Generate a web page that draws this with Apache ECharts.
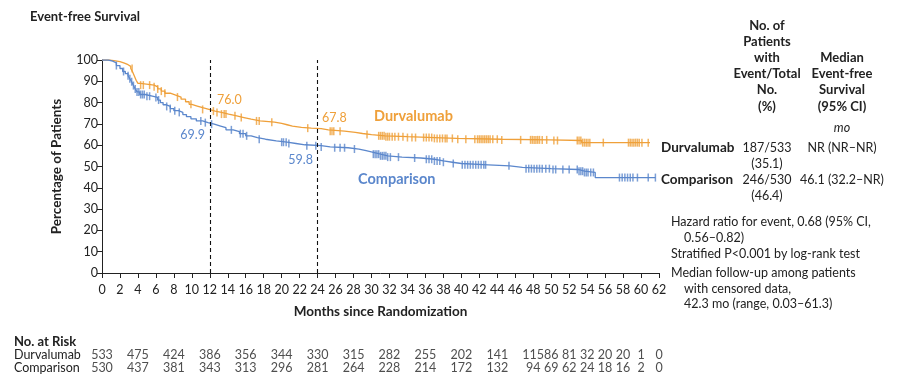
<!DOCTYPE html>
<html>
<head>
<meta charset="utf-8">
<script src="https://cdn.jsdelivr.net/npm/echarts@6/dist/echarts.min.js"></script>
<style>html,body{margin:0;padding:0;background:#fff}#c{width:900px;height:388px}</style>
</head>
<body>
<div id="c"></div>
<script>
// ---- data ----
var xTicks = [0, 62, 2];
var durvaSteps = [[0,100],[0.8,99.6],[1.5,99.2],[2.0,98.5],[2.5,97.8],[2.9,97],[3.2,96],[3.4,94.5],[3.6,92.5],[3.8,90.5],[4.0,89],[4.3,88.2],[5.8,87.4],[6.2,86.4],[6.6,85.4],[7.0,84.4],[7.6,83.5],[8.2,82.6],[8.8,81.6],[9.3,80.4],[9.7,79.2],[10.0,78.4],[10.6,77.6],[11.2,76.8],[11.9,76.0],[12.6,75.4],[13.3,74.6],[14.1,73.8],[15.0,73.0],[15.8,72.2],[16.6,71.4],[17.6,70.8],[19.2,70.2],[20.0,69.6],[20.6,69.0],[21.2,68.4],[22.2,68.0],[23.3,67.8],[24.4,67.2],[25.2,66.6],[27.0,66.0],[28.2,65.5],[29.0,65.0],[30.0,64.4],[31.5,64.0],[34.0,63.6],[37.0,63.2],[39.5,62.8],[44.5,62.5],[49.8,62.2],[53.4,61.2],[61.0,61.2]];
var compSteps = [[0,100],[0.7,99.5],[1.2,98.6],[1.6,97.4],[2.0,96],[2.3,94.6],[2.6,93.6],[2.9,92.6],[3.1,91.2],[3.3,89.8],[3.5,88],[3.7,86.4],[3.9,85],[4.2,83.8],[4.8,83.0],[5.6,82.4],[6.2,81.2],[6.5,80],[6.8,79],[7.1,78.2],[7.6,77.2],[8.0,76.2],[8.5,75.4],[9.0,74.4],[9.4,73.4],[9.9,72.4],[10.5,71.4],[11.2,70.6],[11.8,69.9],[12.5,69.0],[13.2,68.2],[13.8,67.2],[14.6,66.4],[15.3,65.4],[16.0,64.4],[16.6,63.6],[17.3,62.8],[18.2,62.0],[19.4,61.4],[20.6,60.8],[21.6,60.2],[22.6,59.8],[24.4,59.2],[25.4,58.8],[27.4,58.2],[28.6,57.4],[29.4,56.6],[30.2,55.8],[31.0,55.0],[31.8,54.4],[33.4,54.0],[35.5,53.4],[37.0,52.6],[38.0,52.0],[39.0,51.4],[40.0,50.8],[43.0,50.3],[45.4,49.6],[46.8,49.0],[50.0,48.6],[53.0,47.8],[53.7,47.2],[54.9,44.8],[61.6,44.8]];
var durvaCensor = [3.35,4.3,4.6,5.3,5.8,6.2,6.6,7.0,8.4,9.9,11.2,12.4,12.8,13.3,13.6,13.8,14.8,15.5,17.2,17.5,18.9,22.9,25.4,25.6,25.8,26.5,29.5,30.8,31.0,31.2,31.4,31.6,31.8,32.0,32.3,32.6,33.0,33.5,34.0,34.5,34.9,35.8,36.1,36.4,36.7,37.0,37.3,37.6,37.9,38.2,38.4,39.0,39.6,40.5,41.5,41.8,42.0,42.2,42.4,42.6,42.8,43.0,43.2,43.5,44.0,44.5,46.6,47.7,47.9,48.1,48.3,48.5,48.7,49.0,49.5,50.3,50.7,52.9,53.1,53.3,53.5,53.7,53.9,54.1,54.3,55.8,58.6,58.8,59.0,59.2,59.4,59.6,59.8,60.1,60.8];
var compCensor = [1.6,2.4,2.9,3.1,3.3,3.5,3.7,3.9,4.1,4.3,4.5,4.7,5.0,5.3,6.0,6.3,7.2,7.6,8.1,8.6,11.0,11.5,12.2,14.4,15.4,15.7,16.1,17.5,20.0,20.2,20.5,20.8,22.8,23.8,24.4,25.9,26.5,27.0,28.1,30.2,30.4,30.6,30.8,31.0,31.2,31.4,31.6,31.8,32.1,33.0,34.8,36.1,36.4,36.7,37.0,37.3,37.6,38.0,39.1,40.1,40.4,40.7,41.0,41.3,41.6,41.9,42.2,42.5,42.7,45.3,47.2,47.5,47.8,48.1,48.4,48.7,49.0,49.4,49.8,50.2,50.5,51.3,52.0,52.9,53.1,53.3,53.5,53.7,53.9,54.1,54.4,54.7,57.6,57.9,58.2,58.5,58.8,59.1,59.6,60.8,61.6];
var riskMonths = [0,4,8,12,16,20,24,28,32,36,40,44,48,50,52,54,56,58,60,62];
var durvaRisk = [533,475,424,386,356,344,330,315,282,255,202,141,115,86,81,32,20,20,1,0];
var compRisk = [530,437,381,343,313,296,281,264,228,214,172,132,94,69,62,24,18,16,2,0];
var landmarks = [12, 24];

// ---- helpers ----
var ORANGE = '#EFA03A', BLUE = '#5B87CC', INK = '#222';
var FONT = 'Lato';
var FS = 12.5;
function valueAt(steps, t) {
  var v = steps[0][1];
  for (var i = 0; i < steps.length; i++) { if (steps[i][0] <= t) v = steps[i][1]; else break; }
  return v;
}
function censorData(steps, times) { return times.map(function (t) { return [t, valueAt(steps, t)]; }); }
function riskData(counts, row) { return counts.map(function (c, i) { return [riskMonths[i], row, c]; }); }

var chart = echarts.init(document.getElementById('c'), null, { renderer: 'canvas' });
function txt(x, y, s, o) {
  o = o || {};
  return { type: 'text', x: x, y: y, style: {
    text: s, fill: o.fill || INK, font: (o.italic ? 'italic ' : '') + (o.bold ? 'bold ' : '') + (o.size || FS) + 'px ' + FONT,
    textAlign: o.align || 'left', textVerticalAlign: 'middle' } };
}

var graphics = [
  txt(30, 17, 'Event-free Survival', { bold: true, size: 13 }),
  // in-plot annotations
  txt(217, 100, '76.0', { fill: ORANGE }),
  txt(205, 135, '69.9', { fill: BLUE, align: 'right' }),
  txt(322, 118, '67.8', { fill: ORANGE }),
  txt(313, 160, '59.8', { fill: BLUE, align: 'right' }),
  txt(374, 116, 'Durvalumab', { fill: ORANGE, bold: true, size: 14.5 }),
  txt(358, 179, 'Comparison', { fill: BLUE, bold: true, size: 14.5 }),
  // right table headers
  txt(767, 26, 'No. of', { bold: true, align: 'center', size: 13 }),
  txt(767, 42, 'Patients', { bold: true, align: 'center', size: 13 }),
  txt(767, 58, 'with', { bold: true, align: 'center', size: 13 }),
  txt(767, 74, 'Event/Total', { bold: true, align: 'center', size: 13 }),
  txt(767, 90, 'No.', { bold: true, align: 'center', size: 13 }),
  txt(767, 107, '(%)', { bold: true, align: 'center', size: 13 }),
  txt(842, 58, 'Median', { bold: true, align: 'center', size: 13 }),
  txt(842, 74, 'Event-free', { bold: true, align: 'center', size: 13 }),
  txt(842, 90, 'Survival', { bold: true, align: 'center', size: 13 }),
  txt(842, 107, '(95% CI)', { bold: true, align: 'center', size: 13 }),
  txt(842, 128, 'mo', { italic: true, align: 'center' }),
  txt(661, 148, 'Durvalumab', { bold: true, size: 13.5 }),
  txt(767, 148, '187/533', { align: 'center' }),
  txt(767, 164, '(35.1)', { align: 'center' }),
  txt(842, 148, 'NR (NR\u2013NR)', { align: 'center' }),
  txt(661, 180, 'Comparison', { bold: true, size: 13.5 }),
  txt(767, 180, '246/530', { align: 'center' }),
  txt(767, 196, '(46.4)', { align: 'center' }),
  txt(842, 180, '46.1 (32.2\u2013NR)', { align: 'center' }),
  txt(671, 222, 'Hazard ratio for event, 0.68 (95% CI,'),
  txt(684, 238, '0.56\u20130.82)'),
  txt(671, 254, 'Stratified P<0.001 by log-rank test'),
  txt(671, 273, 'Median follow-up among patients'),
  txt(684, 289, 'with censored data,'),
  txt(684, 304, '42.3 mo (range, 0.03\u201361.3)'),
  // risk table labels
  txt(14, 342, 'No. at Risk', { bold: true, size: 13 }),
  txt(14, 355, 'Durvalumab'),
  txt(14, 368, 'Comparison')
];

var riskLabel = { show: true, position: 'inside', color: INK, fontSize: FS, fontFamily: FONT,
  formatter: function (p) { return p.value[2]; } };

var option = {
  animation: false,
  backgroundColor: '#fff',
  textStyle: { fontFamily: FONT },
  grid: [
    { left: 102, right: 241, top: 60, bottom: 115 },
    { left: 102, right: 241, top: 355, bottom: 20 }
  ],
  xAxis: [
    { type: 'value', gridIndex: 0, min: xTicks[0], max: xTicks[1], interval: xTicks[2],
      name: 'Months since Randomization', nameLocation: 'middle', nameGap: 32,
      nameTextStyle: { fontWeight: 'bold', fontSize: 13.5, color: INK, fontFamily: FONT },
      axisLine: { lineStyle: { color: INK, width: 1 } },
      axisTick: { length: 5, lineStyle: { color: INK } },
      axisLabel: { color: INK, fontSize: FS, margin: 10, fontFamily: FONT },
      splitLine: { show: false } },
    { type: 'value', gridIndex: 1, min: xTicks[0], max: xTicks[1], show: false }
  ],
  yAxis: [
    { type: 'value', gridIndex: 0, min: 0, max: 100, interval: 10,
      name: 'Percentage of Patients', nameLocation: 'middle', nameGap: 38,
      nameTextStyle: { fontWeight: 'bold', fontSize: 13.5, color: INK, fontFamily: FONT },
      axisLine: { show: true, lineStyle: { color: INK, width: 1 } },
      axisTick: { show: true, length: 5, lineStyle: { color: INK } },
      axisLabel: { color: INK, fontSize: FS, margin: 4, fontFamily: FONT },
      splitLine: { show: false } },
    { type: 'value', gridIndex: 1, min: 0, max: 1, show: false }
  ],
  graphic: graphics,
  series: [
    { type: 'line', name: 'Durvalumab', step: 'end', data: durvaSteps, showSymbol: false,
      lineStyle: { color: ORANGE, width: 1.3 }, itemStyle: { color: ORANGE }, z: 3,
      markLine: { silent: true, symbol: 'none', label: { show: false },
        lineStyle: { color: '#111', type: [4, 3], width: 1.1 },
        data: landmarks.map(function (m) { return { xAxis: m }; }) } },
    { type: 'line', name: 'Comparison', step: 'end', data: compSteps, showSymbol: false,
      lineStyle: { color: BLUE, width: 1.3 }, itemStyle: { color: BLUE }, z: 3 },
    { type: 'scatter', data: censorData(durvaSteps, durvaCensor), symbol: 'rect', symbolSize: [1.5, 8],
      itemStyle: { color: ORANGE }, z: 4 },
    { type: 'scatter', data: censorData(compSteps, compCensor), symbol: 'rect', symbolSize: [1.5, 8],
      itemStyle: { color: BLUE }, z: 4 },
    { type: 'scatter', xAxisIndex: 1, yAxisIndex: 1, data: riskData(durvaRisk, 1), symbolSize: 1,
      itemStyle: { color: 'rgba(0,0,0,0)' }, label: riskLabel },
    { type: 'scatter', xAxisIndex: 1, yAxisIndex: 1, data: riskData(compRisk, 0), symbolSize: 1,
      itemStyle: { color: 'rgba(0,0,0,0)' }, label: riskLabel }
  ]
};
chart.setOption(option);
</script>
</body>
</html>
